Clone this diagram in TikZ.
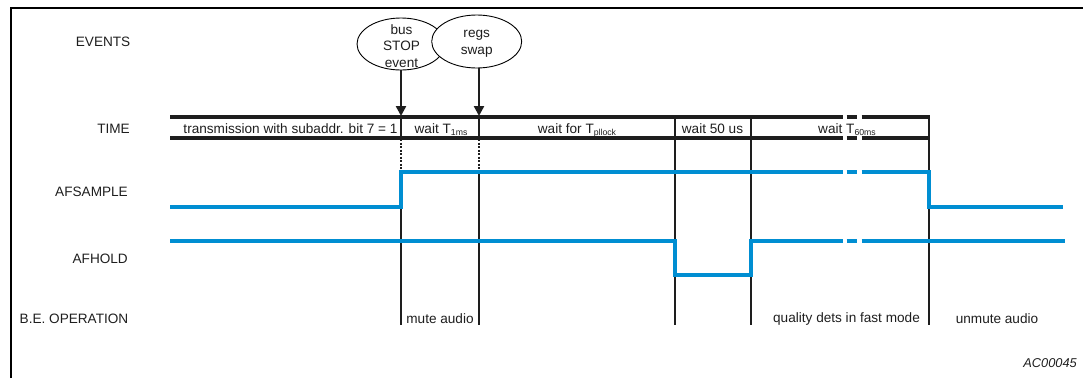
\documentclass[tikz,border=0pt]{standalone}
\usepackage{fontspec}
\setmainfont{Liberation Sans}
\usetikzlibrary{arrows.meta,shapes.geometric}
\definecolor{sigblue}{RGB}{0,142,210}
\definecolor{ink}{RGB}{30,30,30}
\newcommand\subtx[1]{\raisebox{-0.35ex}{\fontsize{8.7}{9}\selectfont #1}}
\tikzset{
  lbl/.style={font=\fontsize{13.6}{16}\selectfont, text=ink, inner sep=0pt},
  rowlbl/.style={lbl, anchor=east},
  barlbl/.style={lbl, anchor=base},
  frame/.style={line width=2.8pt, black},
  barline/.style={line width=3.2pt, ink},
  vline/.style={line width=2.6pt, ink},
  dline/.style={line width=2pt, ink, dash pattern=on 2pt off 1.5pt},
  sig/.style={line width=3.4pt, sigblue},
  evt/.style={ellipse, draw, fill=white, line width=0.9pt, inner sep=0pt},
  evarrow/.style={line width=2.4pt, ink, -{Triangle[width=10pt,length=10pt]}},
}
\begin{document}
\begin{tikzpicture}[x=1pt,y=-1pt]
\useasboundingbox (0,0) rectangle (1083,378);
% frame
\draw[frame] (11,378) -- (11,8) -- (1083,8);
% row labels
\node[rowlbl] (lev) at (130.5,42) {EVENTS};
\node[rowlbl] (ltime) at (130,129) {TIME};
\node[rowlbl] (lsam) at (128,192) {AFSAMPLE};
\node[rowlbl] (lhold) at (128,259) {AFHOLD};
\node[rowlbl] (lbe) at (128.5,319) {B.E. OPERATION};
% time bar
\foreach \y in {117,138}{
  \draw[barline] (170,\y) -- (842.7,\y);
  \draw[barline] (846.7,\y) -- (857.3,\y);
  \draw[barline] (861.7,\y) -- (930,\y);
}
% vertical lines
\draw[vline] (401,117) -- (401,138);
\draw[vline] (479,117) -- (479,138);
\draw[dline] (401,139) -- (401,171);
\draw[dline] (479,139) -- (479,171);
\draw[vline] (401,172) -- (401,325);
\draw[vline] (479,172) -- (479,325);
\draw[vline] (675,115.5) -- (675,325);
\draw[vline] (751,115.5) -- (751,325);
\draw[vline] (929,115.5) -- (929,325);
% bar texts
\node[barlbl] (tx1) at (290.5,133) {transmission with subaddr. bit 7 = 1};
\node[barlbl] (tx2) at (441,133) {wait T\subtx{1ms}};
\node[barlbl] (tx3) at (577,133) {wait for T\subtx{pllock}};
\node[barlbl] (tx4) at (712.5,133) {wait 50 us};
\node[barlbl] (tx5) at (847,133) {wait T\subtx{60ms}};
% AFSAMPLE
\draw[sig] (170,207) -- (401,207) -- (401,172) -- (842.7,172);
\draw[sig] (846.7,172) -- (857.3,172);
\draw[sig] (861.7,172) -- (929,172) -- (929,207) -- (1063,207);
% AFHOLD
\draw[sig] (170,241) -- (675,241) -- (675,275) -- (751,275) -- (751,241) -- (842.7,241);
\draw[sig] (846.7,241) -- (857.3,241);
\draw[sig] (861.7,241) -- (1065,241);
% events
\node[evt, minimum width=88pt, minimum height=52pt] (bus) at (401,44) {};
\node[lbl, align=center, font=\fontsize{13.6}{16.8}\selectfont] (bustx) at (401.5,46) {bus\\STOP\\event};
\node[evt, minimum width=90pt, minimum height=53pt] (regs) at (476.7,41.5) {};
\node[lbl, align=center, font=\fontsize{13.6}{17.5}\selectfont] (regstx) at (476.7,43.5) {regs\\swap};
\coordinate (a1) at (401,116);
\coordinate (a2) at (479,116);
\draw[evarrow] (bus.south -| a1) -- (a1);
\draw[evarrow] (regs.south -| a2) -- (a2);
% B.E. operation
\node[lbl] (be1) at (440,319) {mute audio};
\node[lbl] (be2) at (846.5,319) {quality dets in fast mode};
\node[lbl] (be3) at (997,319) {unmute audio};
\node[lbl, anchor=east, font=\fontsize{12.8}{15}\selectfont\itshape] (code) at (1077,363) {AC00045};
\end{tikzpicture}
\end{document}
